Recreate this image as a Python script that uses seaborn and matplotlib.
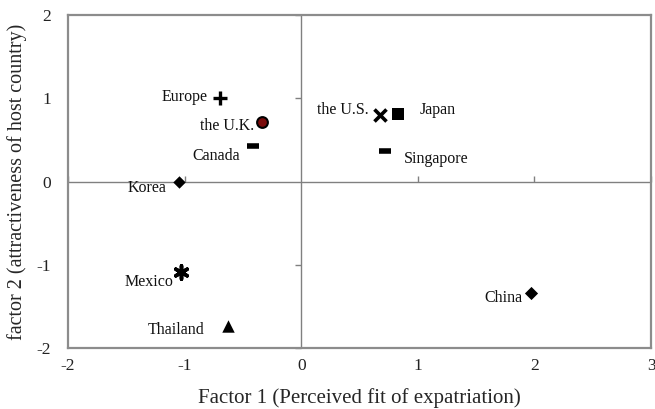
import matplotlib
matplotlib.use("Agg")
import matplotlib.pyplot as plt
import seaborn as sns
import pandas as pd

# Country positions on the two factors
countries = ["Europe", "the U.K.", "Canada", "Korea", "the U.S.", "Japan",
             "Singapore", "Mexico", "Thailand", "China"]
factor1 = [-0.70, -0.34, -0.41, -1.05, 0.68, 0.83, 0.72, -1.03, -0.63, 1.97]
factor2 = [1.00, 0.72, 0.43, 0.00, 0.80, 0.81, 0.37, -1.09, -1.74, -1.34]

x_ticks = [-2, -1, 0, 1, 2, 3]
y_ticks = [-2, -1, 0, 1, 2]

df = pd.DataFrame({"country": countries, "f1": factor1, "f2": factor2})

# marker style per country
styles = {
    "Europe":    dict(marker="+", s=90, color="black", linewidth=2.4),
    "the U.K.":  dict(marker="o", s=60, color="#7a0b0b", edgecolor="black", linewidth=1.5),
    "Canada":    dict(marker="_", s=70, color="black", linewidth=4),
    "Korea":     dict(marker="D", s=40, color="black", edgecolor="black", linewidth=0),
    "the U.S.":  dict(marker="x", s=75, color="black", linewidth=2.6),
    "Japan":     dict(marker="s", s=65, color="black", edgecolor="black", linewidth=0),
    "Singapore": dict(marker="_", s=70, color="black", linewidth=4),
    "Mexico":    dict(marker=(6, 2, 0), s=90, color="black", linewidth=2.6),
    "Thailand":  dict(marker="^", s=80, color="black", edgecolor="black", linewidth=0),
    "China":     dict(marker="D", s=45, color="black", edgecolor="black", linewidth=0),
}

# label placement relative to each marker (pixels) and alignment
label_offsets = {
    "Europe":    (-12, 1, "right"),
    "the U.K.":  (-7, -4, "right"),
    "Canada":    (-13, -10, "right"),
    "Korea":     (-12, -6, "right"),
    "the U.S.":  (-12, 5, "right"),
    "Japan":     (22, 4, "left"),
    "Singapore": (19, -8, "left"),
    "Mexico":    (-8, -10, "right"),
    "Thailand":  (-23, -4, "right"),
    "China":     (-8, -5, "right"),
}

sns.set_theme(style="white")
plt.rcParams["font.family"] = ["Liberation Serif", "DejaVu Serif"]

fig = plt.figure(figsize=(6.55, 4.09), dpi=100)
ax = fig.add_axes([0.1038, 0.1491, 0.8901, 0.8142])

ax.set_xlim(-2, 3)
ax.set_ylim(-2, 2)

# centre axes with their small tick marks
ax.axhline(0, color="#808080", lw=1.0, zorder=1)
ax.axvline(0, color="#808080", lw=1.0, zorder=1)
ax.plot([t for t in x_ticks if t != 0], [0] * 5, ls="none", marker=2,
        ms=4, mew=1.0, color="#808080", zorder=1, clip_on=False)
ax.plot([0] * 4, [t for t in y_ticks if t != 0], ls="none", marker=0,
        ms=4, mew=1.0, color="#808080", zorder=1, clip_on=False)

for _, row in df.iterrows():
    st = styles[row["country"]]
    sns.scatterplot(x=[row["f1"]], y=[row["f2"]], ax=ax, zorder=3, legend=False, **st)
    dx, dy, ha = label_offsets[row["country"]]
    ax.annotate(row["country"], (row["f1"], row["f2"]), xytext=(dx, dy),
                textcoords="offset pixels", ha=ha, va="center",
                fontsize=11.5, color="#111111")

ax.set_xticks(x_ticks)
ax.set_yticks(y_ticks)
ax.set_xticklabels([str(t) for t in x_ticks])
ax.set_yticklabels([str(t) for t in y_ticks])
ax.tick_params(axis="both", length=0, labelsize=12.5, colors="#222222")
ax.tick_params(axis="x", pad=7)
ax.tick_params(axis="y", pad=12)

for sp in ax.spines.values():
    sp.set_visible(True)
    sp.set_color("#8c8c8c")
    sp.set_linewidth(1.6)

ax.set_xlabel("Factor 1 (Perceived fit of expatriation)", fontsize=15, labelpad=10)
ax.set_ylabel("factor 2 (attractiveness of host country)", fontsize=14.5, labelpad=7)

fig.savefig("out.png", dpi=100)
